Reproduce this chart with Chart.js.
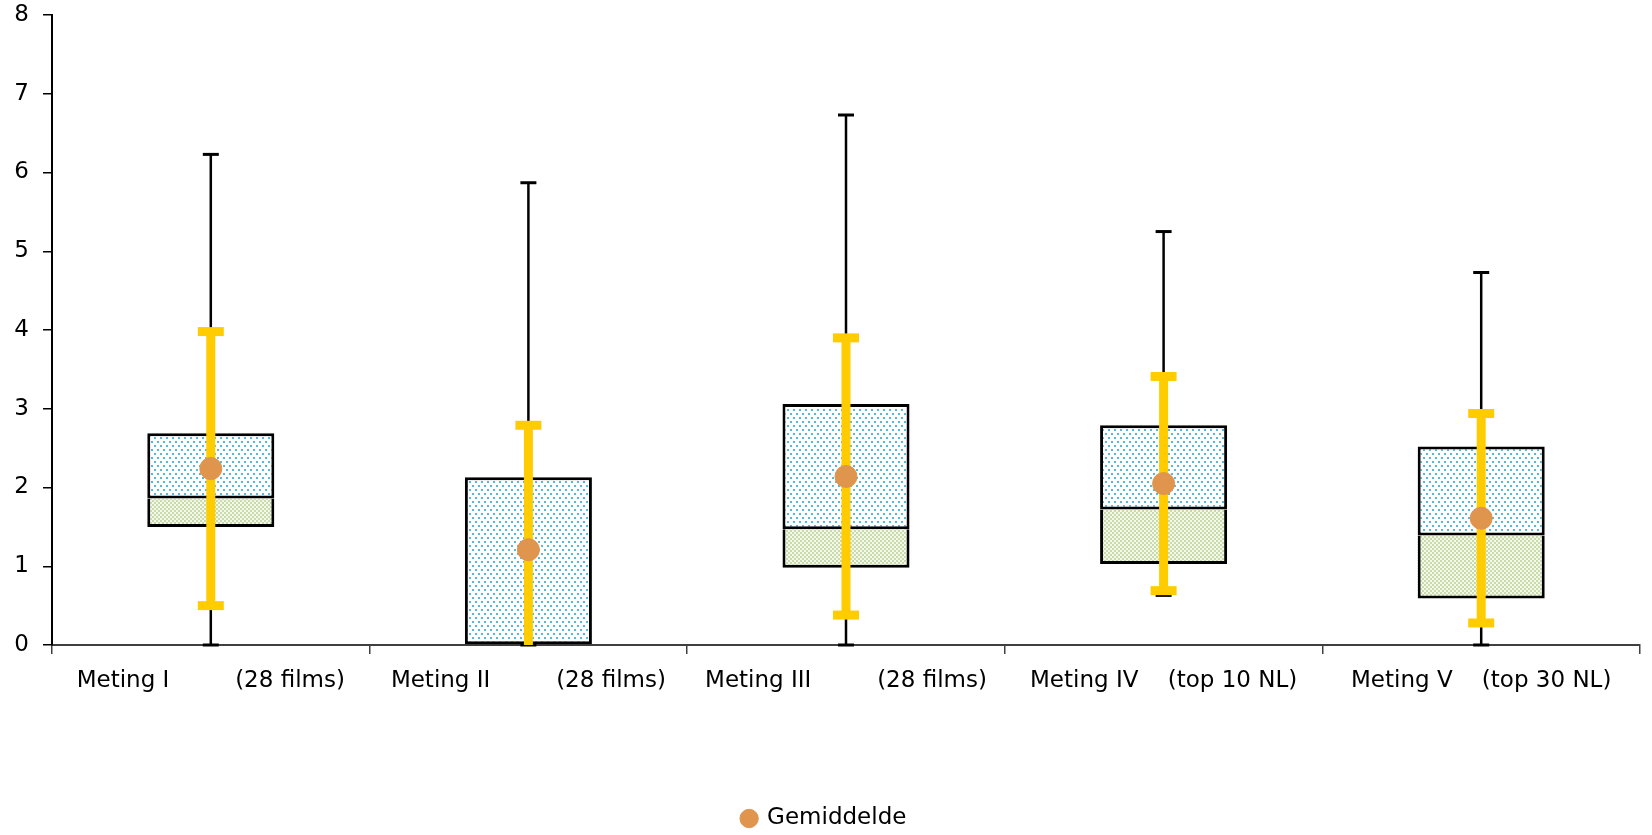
<!DOCTYPE html>
<html>
<head>
<meta charset="utf-8">
<script src="https://cdn.jsdelivr.net/npm/chart.js@4/dist/chart.umd.min.js"></script>
<style>
  html, body { margin: 0; padding: 0; background: #fff; }
  #wrap { width: 1652px; height: 835px; }
</style>
</head>
<body>
<div id="wrap"><canvas id="chart"></canvas></div>
<script>
const metingNames = ["Meting I", "Meting II", "Meting III", "Meting IV", "Meting V"];
const metingNotes = ["(28 films)", "(28 films)", "(28 films)", "(top 10 NL)", "(top 30 NL)"];
const labelGaps = [9, 9, 9, 4, 4];

const whiskerMin = [0, 0, 0, 0.63, 0];
const quartile1 = [1.50, 0, 0.98, 1.03, 0.59];
const medians = [1.86, 0, 1.47, 1.72, 1.39];
const quartile3 = [2.69, 2.13, 3.06, 2.79, 2.52];
const whiskerMax = [6.23, 5.87, 6.73, 5.25, 4.73];

const means = [2.24, 1.21, 2.14, 2.05, 1.61];
const stdDevs = [1.74, 1.58, 1.76, 1.36, 1.33];

const yTicks = [0, 1, 2, 3, 4, 5, 6, 7, 8];

const FONT = "'DejaVu Sans', Arial, sans-serif";

function makeDotPattern() {
  const c = document.createElement("canvas");
  c.width = 6;
  c.height = 8;
  const g = c.getContext("2d");
  g.fillStyle = "#ffffff";
  g.fillRect(0, 0, 6, 8);
  g.fillStyle = "#55b9da";
  g.fillRect(1, 1, 2, 2);
  g.fillRect(4, 5, 2, 2);
  return g.createPattern(c, "repeat");
}

function makeCheckPattern() {
  const c = document.createElement("canvas");
  c.width = 4;
  c.height = 4;
  const g = c.getContext("2d");
  g.fillStyle = "#f3f7ec";
  g.fillRect(0, 0, 4, 4);
  g.fillStyle = "#c8dba9";
  g.fillRect(0, 0, 2, 2);
  g.fillRect(2, 2, 2, 2);
  return g.createPattern(c, "repeat");
}

const labels = metingNames.map((name, i) => name + " ".repeat(labelGaps[i]) + metingNotes[i]);

function drawBar(ctx, x, yTop, yBottom, capHalf, lineWidth, color, capLow, capHigh, capThick) {
  ctx.save();
  ctx.strokeStyle = color;
  ctx.lineWidth = lineWidth;
  ctx.beginPath();
  ctx.moveTo(x, yTop);
  ctx.lineTo(x, yBottom);
  ctx.stroke();
  ctx.lineWidth = capThick;
  if (capHigh) {
    ctx.beginPath();
    ctx.moveTo(x - capHalf, yTop);
    ctx.lineTo(x + capHalf, yTop);
    ctx.stroke();
  }
  if (capLow) {
    ctx.beginPath();
    ctx.moveTo(x - capHalf, yBottom);
    ctx.lineTo(x + capHalf, yBottom);
    ctx.stroke();
  }
  ctx.restore();
}

// whiskers (black) and mean +/- sd bars (yellow), drawn under the mean dots
const whiskerPlugin = {
  id: "whiskers",
  beforeDatasetDraw(chart, args) {
    if (args.meta.type !== "line") return;
    const { ctx, scales } = chart;
    const x = scales.x;
    const y = scales.y;
    ctx.save();
    ctx.lineCap = "butt";
    metingNames.forEach((_, i) => {
      const cx = x.getPixelForValue(i);
      drawBar(ctx, cx, y.getPixelForValue(whiskerMax[i]), y.getPixelForValue(quartile3[i]),
        8, 2.5, "#000", false, true, 3);
      drawBar(ctx, cx, y.getPixelForValue(quartile1[i]), y.getPixelForValue(whiskerMin[i]),
        8, 2.5, "#000", true, false, 3);
    });
    metingNames.forEach((_, i) => {
      const cx = x.getPixelForValue(i);
      const hi = means[i] + stdDevs[i];
      const lo = means[i] - stdDevs[i];
      drawBar(ctx, cx, y.getPixelForValue(hi), y.getPixelForValue(Math.max(lo, 0)),
        13, 9, "#ffcc00", lo >= 0, true, 9);
    });
    ctx.restore();
  },
};

const dotPattern = makeDotPattern();
const checkPattern = makeCheckPattern();

new Chart(document.getElementById("chart"), {
  type: "bar",
  data: {
    labels: labels,
    datasets: [
      {
        label: "Q1-mediaan",
        data: quartile1.map((q, i) => [q, medians[i]]),
        backgroundColor: checkPattern,
        borderColor: "#000",
        borderWidth: { top: 0, left: 3, right: 3, bottom: 3 },
        borderSkipped: false,
        grouped: false,
        barPercentage: 0.4,
        categoryPercentage: 1,
        order: 3,
      },
      {
        label: "mediaan-Q3",
        data: medians.map((m, i) => [m, quartile3[i]]),
        backgroundColor: dotPattern,
        borderColor: "#000",
        borderWidth: 3,
        borderSkipped: false,
        grouped: false,
        barPercentage: 0.4,
        categoryPercentage: 1,
        order: 2,
      },
      {
        type: "line",
        label: "Gemiddelde",
        data: means,
        showLine: false,
        pointStyle: "circle",
        pointRadius: 11,
        pointHoverRadius: 11,
        pointBackgroundColor: "#e0954f",
        pointBorderColor: "#e0954f",
        backgroundColor: "#e0954f",
        borderColor: "#e0954f",
        order: 1,
      },
    ],
  },
  options: {
    responsive: true,
    maintainAspectRatio: false,
    animation: false,
    layout: { padding: { top: 0, right: 3, left: 0, bottom: -5 } },
    plugins: {
      tooltip: { enabled: false },
      legend: {
        position: "bottom",
        labels: {
          filter: (item) => item.text === "Gemiddelde",
          usePointStyle: true,
          pointStyle: "circle",
          boxWidth: 13,
          boxHeight: 13,
          padding: 5,
          color: "#000",
          font: { family: FONT, size: 23 },
        },
      },
    },
    scales: {
      x: {
        offset: true,
        grid: {
          display: true,
          offset: true,
          drawOnChartArea: false,
          drawTicks: true,
          tickLength: 9,
          color: "#404040",
          lineWidth: 1.5,
        },
        border: { display: true, color: "#404040", width: 2 },
        ticks: {
          color: "#000",
          padding: 13,
          maxRotation: 0,
          autoSkip: false,
          font: { family: FONT, size: 23 },
        },
        afterFit(scale) { scale.height = 157; },
      },
      y: {
        min: yTicks[0],
        max: yTicks[yTicks.length - 1],
        afterBuildTicks(scale) { scale.ticks = yTicks.map((v) => ({ value: v })); },
        grid: {
          display: true,
          drawOnChartArea: false,
          drawTicks: true,
          tickLength: 9,
          color: "#000",
          lineWidth: 1.5,
        },
        border: { display: true, color: "#000", width: 2 },
        ticks: {
          color: "#000",
          padding: 14,
          font: { family: FONT, size: 23 },
        },
        afterFit(scale) {
          scale.width = 52;
          scale.paddingTop = 15;
        },
      },
    },
  },
  plugins: [whiskerPlugin],
});
</script>
</body>
</html>
